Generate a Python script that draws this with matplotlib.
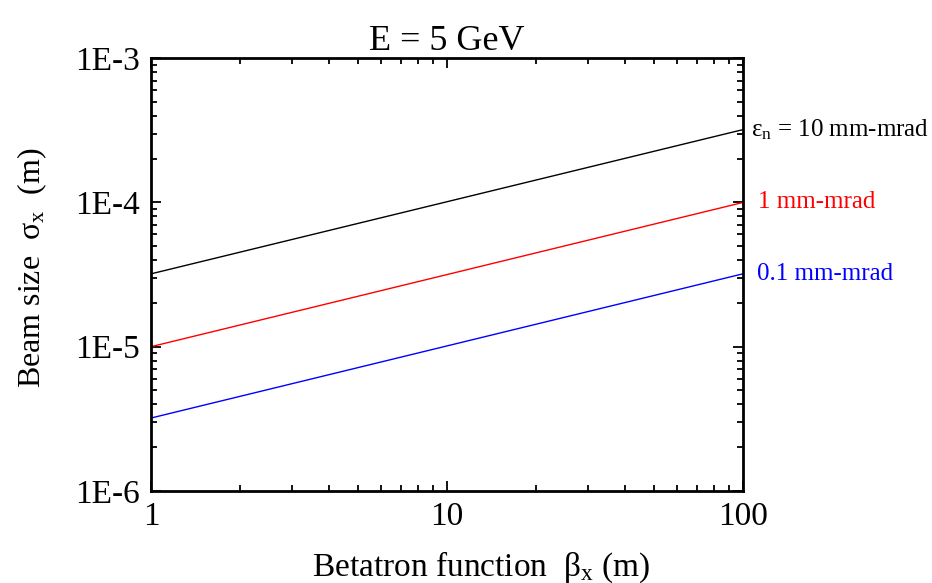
import numpy as np
import matplotlib
matplotlib.use("Agg")
import matplotlib.pyplot as plt
from matplotlib.ticker import LogLocator, FixedLocator, FixedFormatter, NullFormatter

plt.rcParams['font.family'] = ['Liberation Serif', 'DejaVu Serif']
plt.rcParams['mathtext.fontset'] = 'custom'
plt.rcParams['mathtext.rm'] = 'Liberation Serif'
plt.rcParams['mathtext.it'] = 'Liberation Serif:italic'

# data: beam size vs betatron function, E = 5 GeV
beta = [1, 100]
sigma_10 = [3.2e-5, 3.2e-4]
sigma_1 = [1.0e-5, 1.0e-4]
sigma_01 = [3.2e-6, 3.2e-5]

series = [
    (sigma_10, 'black', r'$\mathrm{\varepsilon}_{\mathrm{n}}$ = 10 mm-mrad', 6),
    (sigma_1, 'red', '1 mm-mrad', 11),
    (sigma_01, 'blue', '0.1 mm-mrad', 10),
]

x_ticks = [1, 10, 100]
x_labels = ['1', '10', '100']
y_ticks = [1e-6, 1e-5, 1e-4, 1e-3]
y_labels = ['1E-6', '1E-5', '1E-4', '1E-3']

fig = plt.figure(figsize=(9.32, 5.83), dpi=100)
ax = fig.add_axes([0.162, 0.158, 0.635, 0.742])

for ys, col, lab, off in series:
    ax.plot(beta, ys, color=col, lw=1.0)
    ax.annotate(lab, xy=(beta[-1], ys[-1]), xytext=(off, 0),
                textcoords='offset points', color=col, fontsize=18,
                va='center', ha='left', annotation_clip=False)

ax.set_xscale('log')
ax.set_yscale('log')
ax.set_xlim(1, 100)
ax.set_ylim(1e-6, 1e-3)

ax.xaxis.set_major_locator(FixedLocator(x_ticks))
ax.xaxis.set_major_formatter(FixedFormatter(x_labels))
ax.yaxis.set_major_locator(FixedLocator(y_ticks))
ax.yaxis.set_major_formatter(FixedFormatter(y_labels))
ax.xaxis.set_minor_locator(LogLocator(base=10, subs=np.arange(2, 10)))
ax.yaxis.set_minor_locator(LogLocator(base=10, subs=np.arange(2, 10)))
ax.xaxis.set_minor_formatter(NullFormatter())
ax.yaxis.set_minor_formatter(NullFormatter())

ax.tick_params(which='both', direction='in', top=True, right=True,
               width=1.3, labelsize=24)
ax.tick_params(which='major', length=7, pad=8)
ax.tick_params(which='minor', length=4)
for sp in ax.spines.values():
    sp.set_linewidth(2)

ax.set_xlabel(r'Betatron function  $\mathrm{\beta}_{\mathrm{x}}$ (m)', fontsize=24)
ax.set_ylabel(r'Beam size  $\mathrm{\sigma}_{\mathrm{x}}$  (m)', fontsize=23)
ax.xaxis.set_label_coords(0.557, -0.135)
ax.yaxis.set_label_coords(-0.173, 0.515)
ax.set_title('E = 5 GeV', fontsize=26, pad=6)

fig.savefig('out.png', dpi=100)
